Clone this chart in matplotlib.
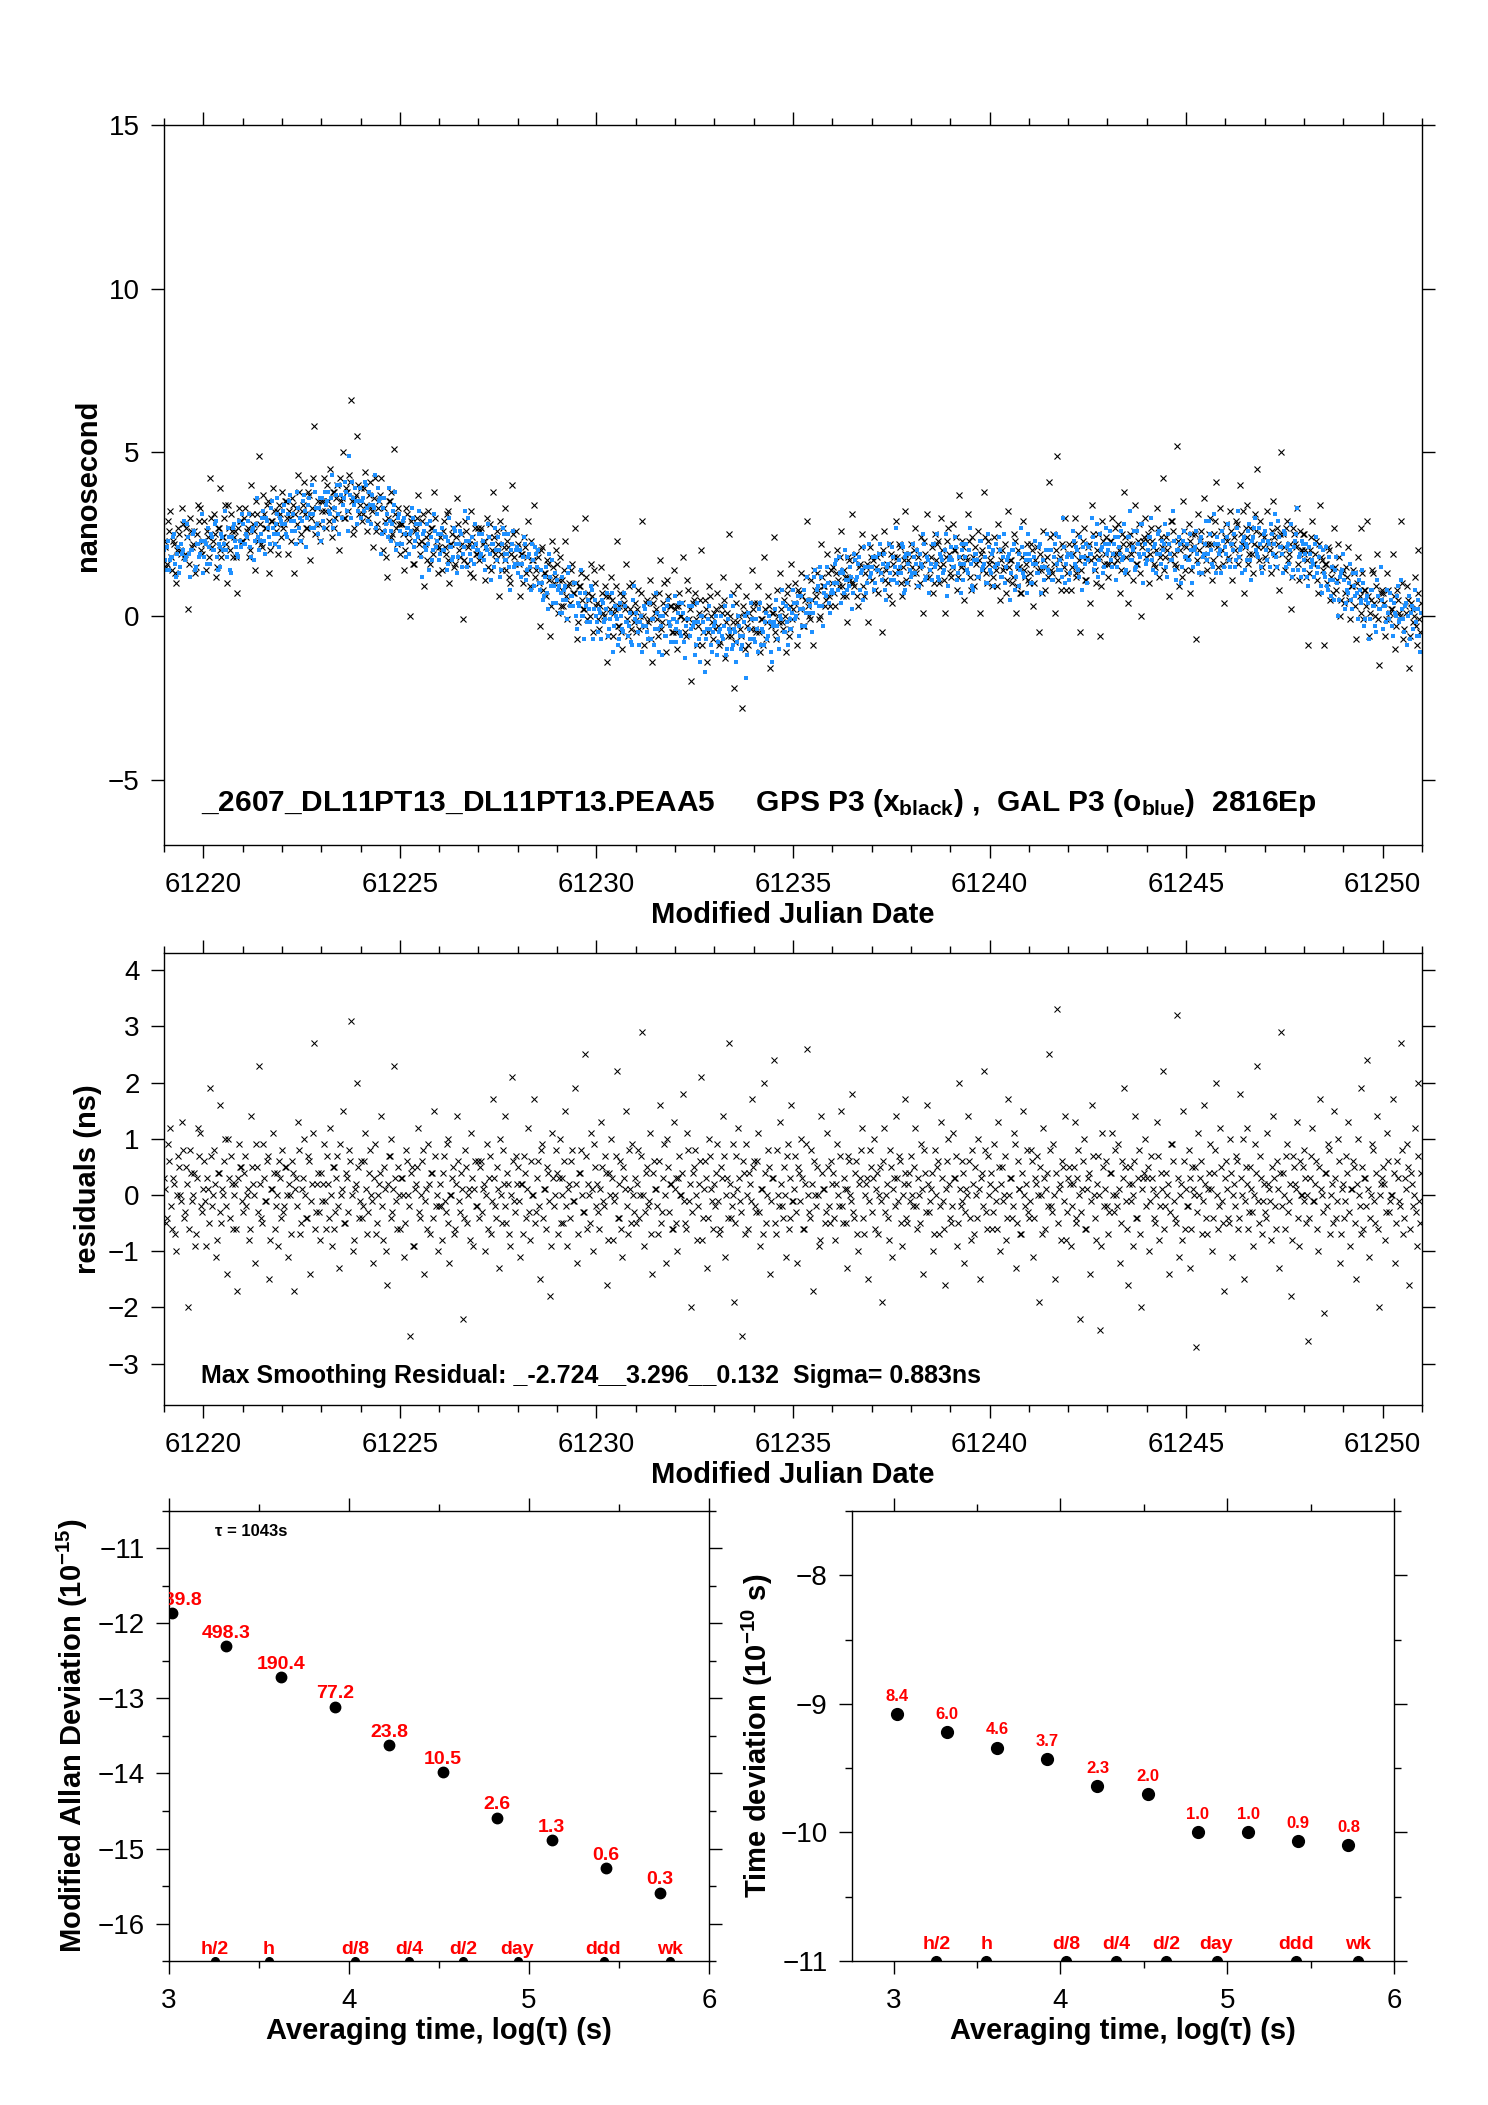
import numpy as np
import matplotlib
matplotlib.use('Agg')
import matplotlib.pyplot as plt
from matplotlib.ticker import MultipleLocator, FormatStrFormatter

# Configuration
OUT_FILE = 'out.png'
MJD_START = 61219.0
EPOCHS_PER_DAY = 20     # per epoch set; two interleaved sets are kept
HALF_DAY = EPOCHS_PER_DAY // 2

TITLE = r'_2607_DL11PT13_DL11PT13.PEAA5     GPS P3 (x$_{black}$) ,  GAL P3 (o$_{blue}$)  2816Ep'
STATS = 'Max Smoothing Residual: _-2.724__3.296__0.132  Sigma= 0.883ns'
TAU0 = 'τ = 1043s'

# Centre of the GPS / GAL bands, one value per half day, in 0.1 ns
gps_centre_01ns = [20, 22, 23, 24, 26, 28, 30, 31, 33, 35, 33, 28, 25, 23, 22, 21,
                   21, 19, 17, 12, 8, 5, 2, 1, 0, 1, 0, -1, -2, -3, -2, 0,
                   3, 8, 11, 13, 14, 15, 15, 17, 17, 16, 15, 14, 14, 16, 17, 18,
                   19, 20, 20, 20, 20, 21, 22, 22, 21, 20, 17, 12, 8, 5, 2, 0]
gal_centre_01ns = [18, 20, 21, 22, 24, 27, 29, 31, 33, 35, 34, 28, 25, 22, 21, 21,
                   20, 19, 16, 10, 6, 2, -1, -2, -3, -3, -3, -5, -5, -6, -5, -2,
                   2, 7, 11, 13, 14, 15, 15, 16, 16, 16, 16, 15, 15, 17, 17, 19,
                   19, 20, 20, 19, 19, 20, 20, 21, 21, 19, 16, 11, 7, 3, 1, 0]

# GPS smoothing residuals, first epoch set, 20 per day, in 0.1 ns
residual_a_01ns = [
    3, -5, 9, 12, -6, 2, -10, 7, 0, 13, -4, 5, -20, 8, -1, 4, -7, 12, 11, -3,        # 61219
    6, -9, 1, 19, -2, 8, -11, 4, 16, -5, 0, 10, -14, 3, 7, -6, 2, -17, 9, 5,         # 61220
    -3, 7, 0, -8, 14, 2, -12, 5, 23, -4, 9, -1, 6, -15, 1, 11, -6, 4, -9, 3,         # 61221
    8, -2, 5, -11, 0, 6, -17, 3, 13, -7, 1, 10, -4, 7, -14, 2, 27, -3, 4, -8,        # 61222
    -1, 9, -6, 2, 12, -9, 5, -3, 7, -13, 0, 15, -5, 3, 8, 31, -10, 1, 20, -4,        # 61223
    6, -2, 11, -7, 4, 0, -12, 9, -5, 2, 14, -8, 1, -16, 7, 10, -3, 23, -1, 5,        # 61224
    -6, 3, -11, 8, 0, -25, 5, -9, 2, 12, -4, 6, -14, 1, 9, -7, 4, 15, -2, -10,       # 61225
    2, -8, 7, -3, 10, -12, 0, 5, -6, 14, -1, 4, -22, 8, -5, 1, 11, -9, 6, -2,        # 61226
    -4, 6, 1, -10, 9, 3, -7, 17, -2, 5, -13, 0, 8, 14, -5, 2, -9, 21, -1, 7,         # 61227
    5, -11, 2, 7, -4, 12, -8, 0, 17, -3, 6, -15, 9, 1, -6, 4, -18, 11, -2, 8,        # 61228
    -7, 10, 3, -5, 15, -9, 2, 6, -1, 19, -12, 4, 8, -3, 25, -6, 0, 11, -10, 5,       # 61229
    2, -6, 13, -1, 7, -16, 4, 10, -8, 0, 22, -4, 6, -11, 3, 15, -7, 1, 9, -3,        # 61230
    -5, 8, 0, 29, -9, 4, -2, 11, -14, 6, 1, -7, 16, -3, 9, -12, 5, 2, -6, 13,        # 61231
    3, -10, 7, 0, 18, -5, 11, -1, -20, 4, 8, -8, 2, 21, -4, 6, -13, 10, 1, -6,       # 61232
    -2, 9, -7, 5, 14, -11, 3, 27, -4, 0, -19, 7, 12, -1, -25, 4, 9, -6, 2, 17,       # 61233
    6, -3, 11, -9, 1, 20, -5, 8, -14, 3, 24, -7, 0, 13, -2, 5, -11, 9, -4, 16,       # 61234
    -1, 7, -12, 4, 10, -6, 2, 26, -3, 8, -17, 0, 5, -9, 14, 1, -5, 11, -2, 6,        # 61235
    4, -8, 9, -2, 15, -5, 1, -13, 7, 0, 18, -4, 6, -10, 3, 12, -7, 2, -15, 8,        # 61236
    -3, 10, 1, -7, 5, -19, 12, 0, -4, 8, -11, 3, 14, -1, 6, -9, 2, 17, -5, 4,        # 61237
    7, -2, 12, -6, 0, 9, -14, 4, 16, -3, 1, -10, 8, 5, -7, 13, -1, -16, 6, 2,        # 61238
    -5, 11, 3, -9, 20, -2, 6, -12, 1, 14, -4, 8, -7, 0, 10, -15, 4, 22, -3, 7,       # 61239
    2, -6, 9, -1, 13, -10, 5, 0, -8, 17, 3, -4, 11, -13, 6, 1, -7, 15, -2, 8,        # 61240
    -4, 8, -11, 3, 7, -19, 0, 12, -6, 4, 25, -2, 9, -15, 33, 1, -8, 5, 14, -3,       # 61241
    5, -9, 2, 13, -4, 8, -22, 1, 10, -6, 3, -14, 16, 0, -8, 7, -24, 11, -2, 6,       # 61242
    -7, 4, 11, -3, 0, 9, -12, 6, 19, -1, -16, 5, 2, -9, 14, -4, 8, -20, 3, 10,       # 61243
    3, -10, 7, 1, -5, 13, -8, 4, 22, -2, 0, -14, 9, 6, -4, 32, -11, 2, 15, -6,       # 61244
    -2, 8, -13, 5, 0, -27, 11, 3, -7, 16, -4, 1, 9, -10, 4, 20, -6, 12, -1, -17,     # 61245
    6, -4, 10, -11, 2, 7, -6, 18, 0, -15, 5, 12, -3, 1, -9, 9, 23, -5, 3, -1,        # 61246
    -3, 11, 1, -8, 14, -2, 6, -13, 29, 4, -6, 9, -1, -18, 7, 2, 13, -9, 0, 5,        # 61247
    8, -5, -26, 3, 12, -1, 6, -10, 17, 0, -21, 4, 9, -7, 2, 15, -4, 10, -12, 1,      # 61248
    -4, 7, 13, -9, 1, 5, -15, 10, -2, 19, -6, 3, 24, -11, 0, 8, -5, 14, -20, 2,      # 61249
    5, -8, 11, -3, 0, 17, -12, 6, -1, 27, -7, 3, 9, -16, 4, -2, 12, -9, 20, -5,      # 61250
]

# GPS smoothing residuals, second epoch set, 20 per day, in 0.1 ns
residual_b_01ns = [
    1, -4, 6, -2, 3, -7, 0, 5, -1, 8, -3, 2, -6, 4, 0, -9, 3, 7, -2, 1,              # 61219
    -1, 3, -5, 7, 0, 2, -8, 4, -3, 1, 6, -2, 10, -4, 2, 0, -6, 3, 5, -1,             # 61220
    4, -2, 1, -6, 5, 0, 9, -3, 2, -5, 3, -1, 7, -8, 1, 4, -2, 0, 6, -4,              # 61221
    -3, 5, 0, 2, -7, 4, 1, -2, 8, -5, 3, 0, -4, 6, -1, 11, -6, 2, -3, 4,             # 61222
    2, -1, 7, -4, 0, 5, -6, 3, -2, 9, 1, -5, 4, -3, 6, 0, -8, 2, 5, -1,              # 61223
    -4, 6, 1, -3, 8, -1, 3, -7, 0, 4, -2, 5, -10, 2, 7, -4, 1, 3, -6, 0,             # 61224
    3, 0, -5, 6, -2, 4, -9, 1, 5, -3, 0, 8, -1, -6, 2, 4, -4, 7, 0, -2,              # 61225
    -2, 4, -1, 9, -5, 0, 3, -7, 2, 6, -3, 1, -4, 5, 0, -8, 3, 1, -2, 6,              # 61226
    5, -3, 2, 0, -6, 7, -1, 3, -4, 1, 10, -5, 2, -2, 4, -7, 0, 6, -3, 2,             # 61227
    -1, 2, -7, 4, 1, -3, 6, 0, -5, 3, -2, 8, -4, 1, 5, -1, -9, 3, 0, 4,              # 61228
    3, -5, 0, 6, -2, 1, -4, 8, -1, 2, -7, 4, 0, -3, 7, 2, -5, 1, 9, -2,              # 61229
    -3, 1, 5, -2, 4, -8, 0, 3, -1, 7, -4, 2, -6, 5, 1, -2, 8, -5, 0, 3,              # 61230
    2, -4, 7, 0, -3, 5, -1, -7, 4, 1, -2, 6, -5, 3, 0, 10, -3, 2, -6, 1,             # 61231
    -5, 3, 0, 4, -1, -6, 8, 2, -3, 5, 0, -2, 6, -8, 1, 3, -4, 7, -1, 2,              # 61232
    4, -1, -6, 3, 7, 0, -4, 2, -2, 9, -5, 1, 3, -3, 6, -7, 0, 4, -1, 5,              # 61233
    -2, 6, -3, 1, -7, 4, 0, 5, -1, 3, -5, 8, -2, 2, -4, 0, 7, -6, 3, -1,             # 61234
    1, -3, 5, -1, 3, -6, 9, 0, -4, 2, 6, -2, 0, -8, 4, 1, -3, 5, -5, 2,              # 61235
    -4, 2, 0, 7, -2, 3, -5, 1, 6, -1, -3, 4, -7, 2, 8, -4, 0, 3, -1, 5,              # 61236
    3, -6, 4, 0, -1, 6, -3, 2, -8, 5, 1, -2, 3, 7, -5, 0, 4, -4, 2, -1,              # 61237
    0, 5, -2, 3, -5, 1, 8, -3, 2, -1, 4, -7, 0, 6, -2, 3, -6, 1, 10, -4,             # 61238
    -2, 3, 7, -5, 1, -1, 4, -3, 0, 6, -8, 2, 5, -4, 1, 3, -2, 8, -6, 0,              # 61239
    4, -3, 1, -6, 5, 2, -1, 7, -4, 0, 3, -2, 9, -5, 1, -7, 4, 0, 2, -3,              # 61240
    -1, 6, -4, 2, 0, 5, -7, 3, 1, -2, 8, -3, 0, 4, -5, 2, 6, -1, -8, 3,              # 61241
    2, -2, 5, -5, 3, 0, -3, 6, -6, 1, 4, -1, 7, -4, 2, 0, -9, 5, 1, -2,              # 61242
    -3, 4, 0, 8, -2, 1, -5, 3, 5, -6, 2, -1, 0, 6, -4, 3, -7, 1, 4, -2,              # 61243
    5, -1, 3, -4, 0, 7, -2, 1, -6, 4, 2, -3, 9, -1, -5, 3, 0, -8, 6, 1,              # 61244
    -2, 3, -6, 1, 5, -3, 0, 6, -1, 2, -7, 4, 1, -4, 8, 0, -2, 5, -5, 3,              # 61245
    1, -5, 4, 0, -2, 6, -4, 3, 10, -1, 2, -6, 5, -3, 0, 4, -1, 7, -7, 2,             # 61246
    -4, 2, -1, 5, 3, -6, 1, 4, -2, 0, 7, -3, 2, -8, 5, 1, -4, 6, 0, -1,              # 61247
    3, 0, -4, 7, -1, 2, -6, 5, 1, -3, 4, -2, 8, 0, -5, 3, -1, 6, -7, 2,              # 61248
    -1, 4, -3, 1, 6, -5, 2, 0, -7, 5, 3, -2, 1, -4, 9, -1, 4, -6, 0, 3,              # 61249
    2, -3, 6, -1, 0, 4, -5, 3, -2, 8, -4, 1, 5, -6, 2, 0, -3, 7, -1, 4,              # 61250
]

# GAL scatter about its band centre, first epoch set, 20 per day, in 0.1 ns
gal_scatter_a_01ns = [
    2, -4, 5, -1, 0, 7, -6, 3, -3, 1, 9, -2, 4, -8, 0, 6, -5, 2, -1, 11,
    -3, 1, 6, -5, 3, -1, 8, -7, 0, 4, -2, 10, -4, 2, -9, 5, 1, -3, 7, -1,
    4, -2, 0, 7, -6, 3, -1, 12, -4, 1, 5, -8, 2, -3, 6, 0, -5, 9, -2, 3,
    -1, 5, -4, 2, 8, -3, 0, -7, 4, 1, -2, 6, -10, 3, 0, 9, -4, 2, -6, 5,
    3, -6, 1, 5, -2, 10, -4, 0, 7, -8, 2, -1, 6, -3, 14, -5, 1, 4, -7, 0,
    -4, 2, 7, -1, 4, -6, 0, 9, -3, 1, -9, 5, -2, 3, 11, -5, 0, 6, -8, 2,
    1, -3, 5, -7, 2, 0, 8, -4, 3, -1, 6, -10, 4, -2, 0, 7, -5, 9, -1, 3,
    -2, 6, -1, 3, -5, 9, 0, -3, 5, -8, 1, 4, -2, 11, -6, 2, -4, 0, 7, -1,
    5, -1, 3, -6, 0, 4, -9, 2, 7, -3, 1, -5, 8, 0, -2, 6, -11, 3, -4, 1,
    -3, 4, 0, 8, -5, 2, -1, 6, -7, 3, 10, -2, 0, -4, 5, -8, 2, 7, -1, -6,
    2, -5, 6, -1, 3, -7, 9, 0, -3, 4, -6, 1, 12, -2, 5, -4, 0, 7, -9, 3,
    -1, 3, -6, 5, 0, 8, -3, 2, -10, 4, 1, -5, 6, -2, 9, 0, -4, 3, -7, 11,
    4, -2, 1, -8, 6, 0, -4, 7, 2, -6, 10, -1, 3, -9, 5, -3, 8, 0, -5, 2,
    -5, 1, 7, -3, 4, -10, 2, 6, -1, 0, -7, 9, -2, 5, 3, -12, 1, 8, -4, 0,
    3, -7, 0, 5, -2, 8, -5, 1, 11, -4, 2, -8, 6, 0, -3, 4, -13, 7, -1, 5,
    -2, 4, -6, 9, 1, -4, 6, -1, 3, -9, 0, 7, -5, 2, 10, -3, 5, -7, 1, -2,
    6, -3, 2, -8, 4, 0, -5, 10, -1, 3, -6, 7, 1, -4, 5, -10, 2, 8, -3, 0,
    -4, 5, -1, 7, -7, 2, 9, -3, 0, 4, -11, 6, -2, 3, -5, 1, 8, -6, 2, -1,
    1, -6, 4, 0, 8, -3, 5, -9, 2, -1, 6, -4, 12, -2, 0, 7, -8, 3, -5, 4,
    -3, 7, -2, 5, -6, 1, 10, -4, 3, -8, 0, 6, -1, 9, -5, 2, -3, 4, -10, 1,
    5, -1, 8, -5, 2, -9, 4, 0, 6, -3, 11, -7, 1, 3, -4, 7, -2, 0, -6, 9,
    -2, 3, -7, 6, 0, 4, -4, 9, -1, 2, -10, 5, 7, -3, 1, -6, 12, -2, 4, -8,
    4, -5, 1, 8, -2, 6, -8, 2, 0, 10, -4, 3, -6, 5, -1, 7, -3, 13, -7, 1,
    -6, 2, 9, -1, 4, -3, 7, -9, 1, 5, -2, 0, 11, -5, 3, -7, 6, 2, -4, 8,
    1, 7, -4, 3, -8, 5, 0, -2, 9, -5, 4, 12, -3, 1, -6, 6, -1, 8, -10, 2,
    -3, 4, 10, -6, 2, -1, 6, -4, 0, 8, -7, 3, -2, 13, -5, 1, 5, -9, 4, -1,
    3, -2, 6, -9, 1, 7, -3, 4, -6, 0, 9, -1, 5, -4, 11, -7, 2, 0, 6, -5,
    -1, 8, -5, 2, 5, -3, 12, 0, -7, 4, 1, -4, 7, -10, 3, 9, -2, 6, -6, 2,
    5, -4, 1, 7, -2, 10, -6, 3, 0, -8, 6, 2, -3, 9, -5, 4, 14, -1, -7, 3,
    -2, 6, -7, 3, 1, -4, 8, -1, 5, -9, 2, 10, -3, 0, 4, -6, 7, -11, 1, 3,
    4, -3, 0, 9, -5, 2, 6, -8, 1, -2, 7, -4, 3, -10, 5, 0, -6, 8, -1, 12,
    -5, 2, 7, -2, 4, -7, 0, 5, -3, 10, -1, 3, -9, 6, 1, -4, 8, -6, 2, -11,
]

# GAL scatter about its band centre, second epoch set, 20 per day, in 0.1 ns
gal_scatter_b_01ns = [
    -1, 3, -4, 0, 6, -2, 1, -5, 4, 2, -3, 8, -1, 0, 5, -6, 2, -2, 3, -7,
    2, -5, 0, 4, -1, 7, -3, 1, -6, 3, 0, -2, 5, -8, 2, 6, -1, -4, 1, 9,
    -2, 1, 5, -3, 2, -7, 4, 0, -1, 6, -4, 3, 0, -5, 8, -2, 1, 4, -6, 2,
    3, -1, -5, 6, 0, 2, -3, 9, -2, -6, 4, 1, -1, 5, -4, 0, 7, -3, 2, -8,
    -4, 5, 2, -1, 3, -6, 0, 4, -2, 7, -5, 1, 3, -9, 2, 6, -1, 0, -3, 4,
    1, -2, 6, -5, 0, 3, -1, -7, 5, 2, -3, 8, 0, -4, 1, -2, 4, 10, -6, 3,
    -3, 4, 0, 2, -6, 1, 5, -2, 0, 7, -4, 3, -1, 6, -8, 2, -2, 4, 1, -5,
    4, -1, 3, -7, 2, 0, -4, 6, 1, -3, 5, -6, 0, 2, 9, -2, 3, -5, 1, -1,
    -2, 5, -3, 1, 8, -1, 2, -5, 0, 4, -7, 3, 6, -2, 0, -4, 1, 7, -3, 2,
    0, -4, 2, 6, -2, 3, -8, 1, 5, -1, 0, 4, -5, 2, -3, 9, -1, -6, 3, 1,
    3, 1, -5, 2, -1, 7, -3, 0, 4, -6, 2, 5, -2, -9, 1, 3, -4, 6, 0, -2,
    -4, 2, 6, -1, 3, -5, 0, 8, -2, 1, -7, 4, 2, -3, 5, 0, -1, -6, 7, 1,
    1, -6, 3, 0, 5, -2, 7, -4, 2, -1, 4, -8, 0, 3, -3, 6, 1, -5, 2, 9,
    -1, 4, -2, 7, -5, 0, 2, -3, 6, 1, -4, 3, -9, 5, 0, -2, 4, 1, -6, 2,
    5, -3, 1, -1, 2, -7, 4, 0, -5, 8, 1, -2, 3, -4, 0, 6, -6, 2, 10, -1,
    -3, 1, 7, -4, 0, 3, -2, 5, -6, 2, 4, -1, -8, 1, 6, -3, 0, 4, -2, 3,
    2, -2, 4, 0, -5, 6, -1, 3, 1, -7, 5, -3, 2, 8, -4, 0, -1, 3, -6, 1,
    -1, 6, -3, 2, 3, -4, 0, 7, -2, 1, -6, 4, -1, 5, 0, -8, 2, -3, 9, 0,
    4, -4, 0, 5, -1, 2, -6, 1, 8, -3, 3, 0, -5, 2, -2, 6, -7, 4, 1, -1,
    -2, 3, 1, -6, 4, 0, 7, -3, 2, -1, -5, 6, 0, -4, 3, 1, -2, 9, -7, 2,
    1, -1, 5, -3, 0, 6, -5, 2, -2, 4, 0, -8, 3, 1, -4, 7, -1, 2, -6, 5,
    -3, 4, -1, 0, 8, -4, 2, -6, 1, 3, -2, 5, -7, 0, 4, -1, 6, -3, 2, 10,
    2, -5, 3, 1, -2, 7, 0, -4, 5, -1, 3, -6, 1, 8, -3, 0, -5, 4, -1, 2,
    -4, 1, 6, -2, 3, -5, 1, 4, -1, -7, 2, 0, 5, -3, 9, -2, 1, -6, 3, 0,
    3, -2, 0, 5, -4, 2, 7, -1, -6, 1, 4, -3, 0, 6, -5, 2, -2, 8, -1, -4,
    0, 4, -3, 1, -7, 5, -1, 3, 2, -5, 6, 0, -2, 4, -8, 1, 3, -4, 7, -1,
    -2, 6, 1, -4, 2, 0, -6, 5, -1, 3, -3, 9, 0, -5, 2, 4, -1, -7, 3, 1,
    4, -3, 2, 0, -5, 7, -2, 1, 3, -6, 0, 5, -4, 2, 6, -1, -3, 1, -8, 4,
    -1, 2, -6, 4, 1, -3, 8, 0, -2, 5, -4, 3, 1, -7, 2, 6, -5, 0, 4, -2,
    3, -4, 5, -1, 0, 6, -3, 2, -7, 4, 1, -2, 7, -5, 0, 3, -1, -6, 2, 8,
    -5, 1, 3, -2, 6, -1, 0, 4, -3, 7, -6, 2, 1, -4, 5, 0, -8, 3, -1, 2,
    2, -3, 0, 6, -4, 3, -1, 8, -2, 1, -5, 4, 0, -7, 3, 2, -2, 5, -6, 1,
]

# Stability results, log10 of averaging time
log_tau = [3.018, 3.319, 3.620, 3.921, 4.222, 4.523, 4.824, 5.125, 5.426, 5.727]
adev_log = [-11.86, -12.30, -12.72, -13.11, -13.62, -13.98, -14.59, -14.89, -15.26, -15.59]
adev_labels = ['1389.8', '498.3', '190.4', '77.2', '23.8', '10.5', '2.6', '1.3', '0.6', '0.3']
tdev_log = [-9.08, -9.22, -9.34, -9.43, -9.64, -9.70, -10.00, -10.00, -10.07, -10.10]
tdev_labels = ['8.4', '6.0', '4.6', '3.7', '2.3', '2.0', '1.0', '1.0', '0.9', '0.8']

# Reference spans marked along the bottom axis
span_log_tau = [3.255, 3.556, 4.033, 4.334, 4.635, 4.936, 5.414, 5.782]
span_labels = ['h/2', 'h', 'd/8', 'd/4', 'd/2', 'day', 'ddd', 'wk']


def style_axes(ax, x_major, x_minor, y_major, y_minor=None):
    ax.xaxis.set_major_locator(MultipleLocator(x_major))
    ax.xaxis.set_minor_locator(MultipleLocator(x_minor))
    ax.yaxis.set_major_locator(MultipleLocator(y_major))
    if y_minor:
        ax.yaxis.set_minor_locator(MultipleLocator(y_minor))
    ax.tick_params(which='both', direction='out', top=True, right=True,
                   width=1.0, labelsize=20)
    ax.tick_params(which='major', length=9.5)
    ax.tick_params(which='minor', length=5)
    ax.tick_params(axis='x', pad=10)
    ax.tick_params(axis='y', pad=8)
    for spine in ax.spines.values():
        spine.set_linewidth(1.0)


def plot_series(ax, mjd, gps, gal):
    ax.plot(mjd, gps, ls='none', marker='x', ms=5, mew=0.8, color='black')
    ax.plot(mjd, gal, ls='none', marker='s', ms=2.8, mew=0, color='#1e90ff')
    ax.set_xlim(61219, 61251)
    ax.set_ylim(-7, 15)
    style_axes(ax, 5, 1, 5)
    ax.xaxis.set_major_formatter(FormatStrFormatter('%d'))
    ax.text(61219.94, -5.95, TITLE, fontsize=21.5, fontweight='bold', va='baseline')
    ax.set_ylabel('nanosecond', fontsize=21, fontweight='bold')
    ax.yaxis.set_label_coords(-0.0493, 0.5)
    ax.set_xlabel('Modified Julian Date', fontsize=21, fontweight='bold', labelpad=2)


def plot_residuals(ax, mjd, res):
    ax.plot(mjd, res, ls='none', marker='x', ms=4.6, mew=0.75, color='black')
    ax.set_xlim(61219, 61251)
    ax.set_ylim(-3.735, 4.30)
    style_axes(ax, 5, 1, 1)
    ax.xaxis.set_major_formatter(FormatStrFormatter('%d'))
    ax.text(61219.94, -3.34, STATS, fontsize=18, fontweight='bold', va='baseline')
    ax.set_ylabel('residuals (ns)', fontsize=21, fontweight='bold')
    ax.yaxis.set_label_coords(-0.0493, 0.5)
    ax.set_xlabel('Modified Julian Date', fontsize=21, fontweight='bold', labelpad=2)


def plot_stability(ax, values, labels, dot_size, label_size, label_gap, span_dot, span_gap):
    ax.plot(log_tau, values, ls='none', marker='o', ms=dot_size, color='black')
    for x, y, lbl in zip(log_tau, values, labels):
        ax.annotate(lbl, (x, y), xytext=(0, label_gap), textcoords='offset points',
                    ha='center', va='baseline', color='red', fontsize=label_size,
                    fontweight='bold', clip_on=True)
    y_floor = ax.get_ylim()[0]
    ax.plot(span_log_tau, np.full(len(span_log_tau), y_floor), ls='none', marker='o',
            ms=span_dot, color='black', clip_on=True)
    for x, lbl in zip(span_log_tau, span_labels):
        ax.annotate(lbl, (x, y_floor), xytext=(0, span_gap), textcoords='offset points',
                    ha='center', va='baseline', color='red', fontsize=14,
                    fontweight='bold')
    style_axes(ax, 1, 0.5, 1, 0.5)
    ax.set_xlabel('Averaging time, log(τ) (s)', fontsize=21, fontweight='bold', labelpad=2)


def main():
    plt.rcParams['font.family'] = ['Liberation Sans', 'DejaVu Sans']
    plt.rcParams['mathtext.fontset'] = 'custom'
    plt.rcParams['mathtext.rm'] = 'Liberation Sans'
    plt.rcParams['mathtext.it'] = 'Liberation Sans:italic'
    plt.rcParams['mathtext.bf'] = 'Liberation Sans:bold'
    plt.rcParams['mathtext.default'] = 'bf'

    # Two interleaved epoch sets, each 20 per day
    res_a = np.array(residual_a_01ns)
    res_b = np.array(residual_b_01ns)
    n = len(res_a)
    step = np.arange(n) / EPOCHS_PER_DAY
    mjd = np.concatenate([MJD_START + step + 0.25 / EPOCHS_PER_DAY,
                          MJD_START + step + 0.75 / EPOCHS_PER_DAY])
    gps_base = np.repeat(gps_centre_01ns, HALF_DAY)
    gal_base = np.repeat(gal_centre_01ns, HALF_DAY)

    res = np.concatenate([res_a, res_b]) / 10.0
    gps = np.concatenate([gps_base + res_a, gps_base + res_b]) / 10.0
    gal = np.concatenate([gal_base + np.array(gal_scatter_a_01ns),
                          gal_base + np.array(gal_scatter_b_01ns)]) / 10.0

    fig = plt.figure(figsize=(14.88, 21.05), dpi=100)
    ax_ts = fig.add_axes([0.1102, 0.5986, 0.8454, 0.3420])
    ax_res = fig.add_axes([0.1102, 0.3325, 0.8454, 0.2147])
    ax_adev = fig.add_axes([0.1136, 0.0684, 0.3629, 0.2138])
    ax_tdev = fig.add_axes([0.5726, 0.0684, 0.3642, 0.2138])

    plot_series(ax_ts, mjd, gps, gal)
    plot_residuals(ax_res, mjd, res)

    # Modified Allan deviation
    ax_adev.set_xlim(3, 6)
    ax_adev.set_ylim(-16.5, -10.5)
    plot_stability(ax_adev, adev_log, adev_labels, 7.5, 14, 6, 5.5, 5)
    ax_adev.text(3.256, -10.78, TAU0, fontsize=12, fontweight='bold', va='center')
    ax_adev.set_ylabel(r'Modified Allan Deviation (10$^{-15}$)', fontsize=21, fontweight='bold')
    ax_adev.yaxis.set_label_coords(-0.146, 0.5)

    # Time deviation
    ax_tdev.set_xlim(2.75, 6)
    ax_tdev.set_ylim(-11, -7.5)
    plot_stability(ax_tdev, tdev_log, tdev_labels, 8.5, 12, 9.5, 7, 9)
    ax_tdev.set_ylabel(r'Time deviation (10$^{-10}$ s)', fontsize=21, fontweight='bold')
    ax_tdev.yaxis.set_label_coords(-0.142, 0.5)

    fig.savefig(OUT_FILE, dpi=100)
    print(f"Chart saved to: {OUT_FILE}")


if __name__ == "__main__":
    main()
